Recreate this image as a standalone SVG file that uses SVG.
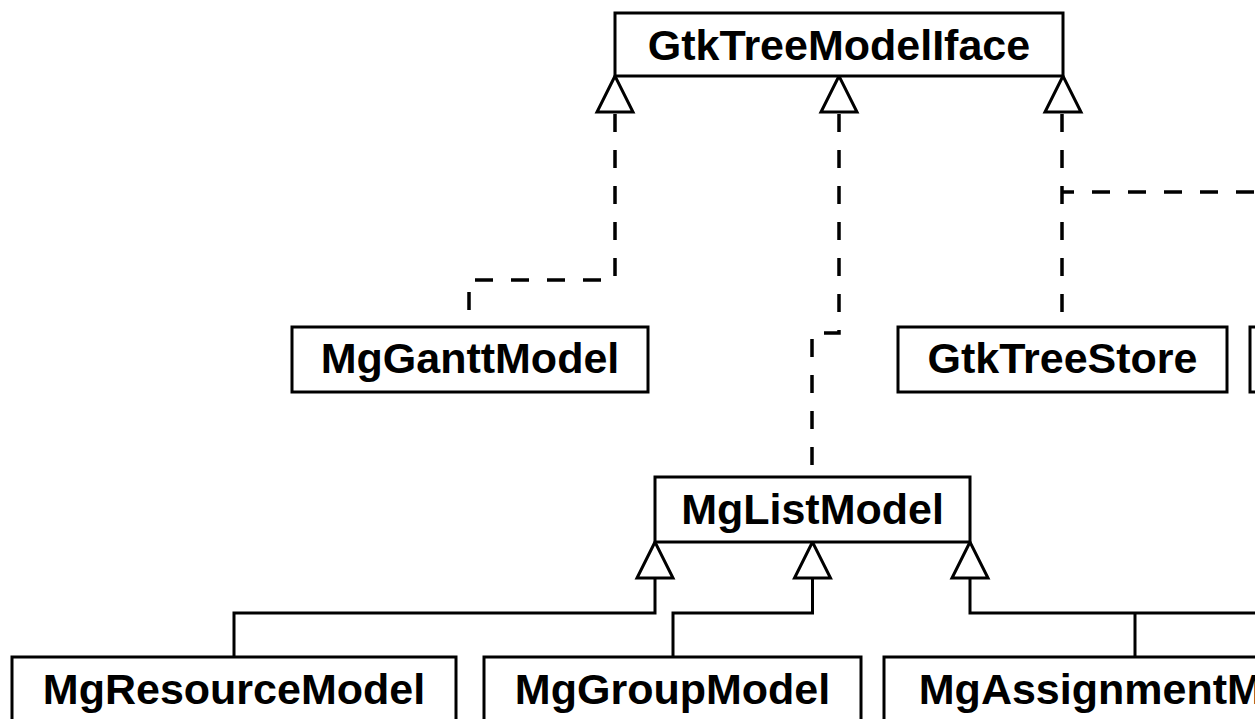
<svg xmlns="http://www.w3.org/2000/svg" width="1255" height="719" viewBox="0 0 1255 719">
<style>
.box{fill:#fff;stroke:#000;stroke-width:3}
.lbl{font-family:"Liberation Sans",Arial,sans-serif;font-weight:bold;font-size:43px;fill:#000;text-anchor:middle}
.dash{fill:none;stroke:#000;stroke-width:3.5;stroke-dasharray:18 18}
.solid{fill:none;stroke:#000;stroke-width:3}
.tri{fill:#fff;stroke:#000;stroke-width:3;stroke-linejoin:miter}
</style>
<rect width="1255" height="719" fill="#fff"/>
<g id="connectors">
<path class="dash" stroke-dashoffset="34" d="M615,112 V280 H469 V327"/>
<path class="dash" stroke-dashoffset="34" d="M839,112 V333 H812 V477"/>
<path class="dash" stroke-dashoffset="34" d="M1062,112 V327"/>
<path class="dash" stroke-dashoffset="6" d="M1062,192 H1260"/>
<path class="solid" d="M655,578 V613 H234 V657"/>
<path class="solid" d="M812.5,578 V613 H673 V657"/>
<path class="solid" d="M970,578 V613 H1260 M1135,613 V657"/>
<path class="tri" d="M615,76 L597,112 H633 Z"/>
<path class="tri" d="M839,76 L821,112 H857 Z"/>
<path class="tri" d="M1063,76 L1045,112 H1081 Z"/>
<path class="tri" d="M655,542 L637,578 H673 Z"/>
<path class="tri" d="M812.5,542 L794.5,578 H830.5 Z"/>
<path class="tri" d="M970,542 L952,578 H988 Z"/>
</g>
<g id="GtkTreeModelIface">
<rect class="box" x="615" y="13" width="448" height="63"/>
<text class="lbl" x="839" y="60">GtkTreeModelIface</text>
</g>
<g id="MgGanttModel">
<rect class="box" x="292" y="327" width="356" height="65"/>
<text class="lbl" x="470" y="373">MgGanttModel</text>
</g>
<g id="GtkTreeStore">
<rect class="box" x="898" y="327" width="329" height="65"/>
<text class="lbl" x="1062.5" y="373">GtkTreeStore</text>
</g>
<g id="PartialNode">
<rect class="box" x="1250" y="327" width="60" height="65"/>
</g>
<g id="MgListModel">
<rect class="box" x="655" y="477" width="315" height="65"/>
<text class="lbl" x="812.5" y="524">MgListModel</text>
</g>
<g id="MgResourceModel">
<rect class="box" x="12" y="657" width="444" height="70"/>
<text class="lbl" x="234" y="704">MgResourceModel</text>
</g>
<g id="MgGroupModel">
<rect class="box" x="484" y="657" width="377" height="70"/>
<text class="lbl" x="672.5" y="704">MgGroupModel</text>
</g>
<g id="MgAssignmentModel">
<rect class="box" x="884" y="657" width="502" height="70"/>
<text class="lbl" x="1135" y="704">MgAssignmentModel</text>
</g>
</svg>
